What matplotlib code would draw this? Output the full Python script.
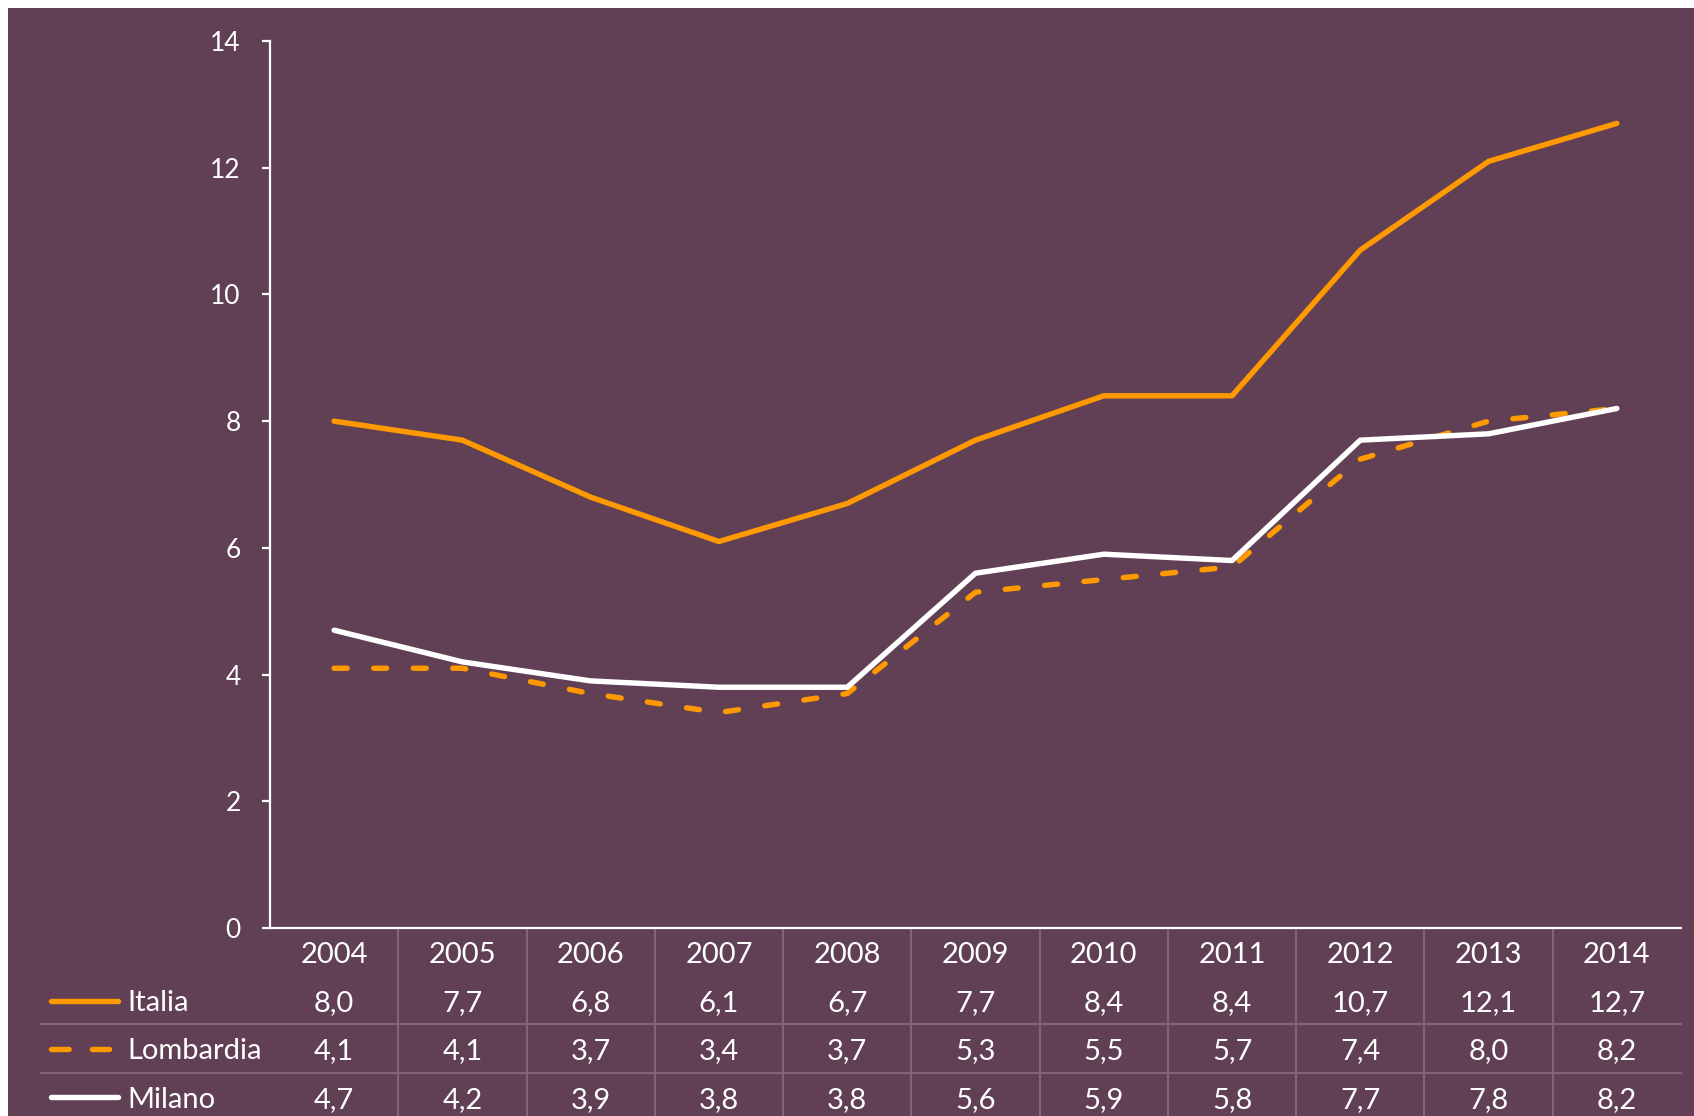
import matplotlib
matplotlib.use('Agg')
import matplotlib.pyplot as plt
import matplotlib.transforms as mtransforms
from matplotlib.lines import Line2D
from matplotlib.patches import Rectangle

years = [2004, 2005, 2006, 2007, 2008, 2009, 2010, 2011, 2012, 2013, 2014]
italia = [8.0, 7.7, 6.8, 6.1, 6.7, 7.7, 8.4, 8.4, 10.7, 12.1, 12.7]
lombardia = [4.1, 4.1, 3.7, 3.4, 3.7, 5.3, 5.5, 5.7, 7.4, 8.0, 8.2]
milano = [4.7, 4.2, 3.9, 3.8, 3.8, 5.6, 5.9, 5.8, 7.7, 7.8, 8.2]
y_ticks = [0, 2, 4, 6, 8, 10, 12, 14]

W, H = 1694, 1116
BG = '#614055'
ORANGE = '#FF9900'
GRID = '#80657A'
LW = 3.9
DASH = (0, (2.4, 4.9))
KEY_DASH = (0, (3.25, 4.3))
FS = 21

plt.rcParams['font.family'] = ['Lato', 'DejaVu Sans']

fig = plt.figure(figsize=(W / 100, H / 100), dpi=100)
fig.patch.set_facecolor('white')
fig.add_artist(Rectangle((8 / W, 0), 1 - 8 / W, 1 - 8 / H, transform=fig.transFigure,
                         facecolor=BG, edgecolor='none', zorder=-10))

def fy(p):
    # pixel row from top -> figure fraction
    return 1 - p / H

ax = fig.add_axes([270 / W, fy(928), (1681 - 270) / W, (928 - 41) / H])
ax.set_facecolor('none')

x = list(range(len(years)))
ax.plot(x, italia, color=ORANGE, lw=LW, solid_capstyle='round', solid_joinstyle='round', zorder=3)
ax.plot(x, lombardia, color=ORANGE, lw=LW, ls=DASH, dash_capstyle='round', zorder=4)
ax.plot(x, milano, color='white', lw=LW, solid_capstyle='round', solid_joinstyle='round', zorder=5)

ax.set_xlim(-0.5, len(years) - 0.5)
ax.set_ylim(0, 14)
ax.set_yticks(y_ticks)
ax.set_xticks([])
for s in ['top', 'right']:
    ax.spines[s].set_visible(False)
for s in ['left', 'bottom']:
    ax.spines[s].set_color('white')
    ax.spines[s].set_linewidth(1.6)
ax.tick_params(axis='y', colors='white', length=6, width=1.6, pad=15, labelsize=19)

# data table under the axis
tr = mtransforms.blended_transform_factory(ax.transData, fig.transFigure)
rows = [
    ('Italia', italia, 1011, '-', ORANGE, 1001),
    ('Lombardia', lombardia, 1059, KEY_DASH, ORANGE, 1049),
    ('Milano', milano, 1108, '-', 'white', 1097),
]

for i, yr in enumerate(years):
    ax.text(i, fy(963), str(yr), transform=tr, ha='center', va='baseline',
            color='white', fontsize=FS, clip_on=False)
    for name, vals, base, ls, col, ky in rows:
        ax.text(i, fy(base), f'{vals[i]:.1f}'.replace('.', ','), transform=tr,
                ha='center', va='baseline', color='white', fontsize=FS, clip_on=False)

for k in range(len(years) - 1):
    ax.add_line(Line2D([k + 0.5, k + 0.5], [fy(929), 0], transform=tr, color=GRID,
                       lw=1.5, clip_on=False))

for p in [1024, 1073]:
    fig.add_artist(Line2D([41 / W, 1681 / W], [fy(p), fy(p)], transform=fig.transFigure,
                          color=GRID, lw=1.5))

for name, vals, base, ls, col, ky in rows:
    x1 = 109.3 if ls != '-' else 118.3
    fig.add_artist(Line2D([50.7 / W, x1 / W], [fy(ky), fy(ky)], transform=fig.transFigure,
                          color=col, lw=LW, ls=ls, solid_capstyle='round',
                          dash_capstyle='round'))
    fig.text(127 / W, fy(base), name, ha='left', va='baseline', color='white', fontsize=FS)

fig.savefig('out.png', dpi=100, facecolor=fig.get_facecolor())
